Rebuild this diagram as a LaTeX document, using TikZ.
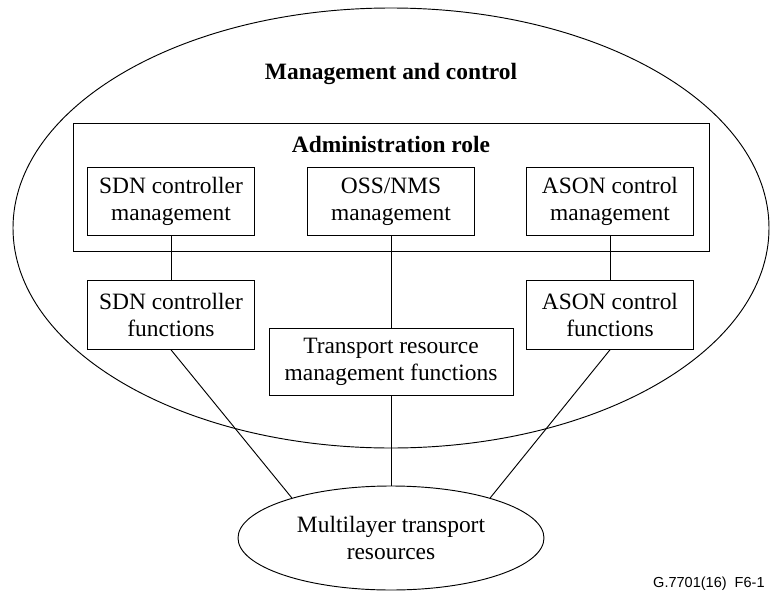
\documentclass[tikz,border=0pt]{standalone}
\usepackage{fontspec}
\setmainfont{Liberation Serif}
\newfontfamily\capfont{Liberation Sans}
\usetikzlibrary{shapes.geometric}
\begin{document}
\begin{tikzpicture}[x=0.3mm, y=-0.3mm, line width=0.8pt,
	font=\fontsize{20}{23}\selectfont,
	fbox/.style={draw, minimum width=50.2mm, minimum height=20.6mm, align=center, inner sep=0pt},
	oval/.style={draw, ellipse, inner sep=0pt, align=center},
	heading/.style={anchor=base, font=\fontsize{20}{23}\selectfont\bfseries}]
	\useasboundingbox (0,0) rectangle (772,590);
	
	\node[oval, minimum width=226.8mm, minimum height=132mm] (mc) at (391,228) {};
	\node[heading] (mctitle) at (391,79) {Management and control};
	
	\node[draw, minimum width=190.8mm, minimum height=38.4mm, inner sep=0pt] (admin) at (391,187) {};
	\node[heading] (admintitle) at (391,152) {Administration role};
	
	\node[fbox] (sdnm) at (171,201.5) {SDN controller\\management};
	\node[fbox] (ossm) at (391,201.5) {OSS/NMS\\management};
	\node[fbox] (asonm) at (610,201.5) {ASON control\\management};
	
	\node[fbox] (sdnf) at (171,315) {SDN controller\\functions};
	\node[fbox] (asonf) at (610,315) {ASON control\\functions};
	\node[fbox, minimum width=73.2mm, minimum height=20.1mm] (trmf) at (391,361.5) {Transport resource\\management functions};
	
	\node[oval, minimum width=91.8mm, minimum height=31.2mm] (mtr) at (391,538) {Multilayer transport\\resources};
	
	\node[anchor=base east, font=\fontsize{12.4}{14}\capfont] (fig) at (769,587) {G.7701(16)\ \ F6-1};
	
	\draw (sdnm) -- (sdnf);
	\draw (ossm) -- (trmf);
	\draw (asonm) -- (asonf);
	\draw (sdnf.south) -- (mtr.158);
	\draw (trmf) -- (mtr);
	\draw (asonf.south) -- (mtr.22);
\end{tikzpicture}
\end{document}
